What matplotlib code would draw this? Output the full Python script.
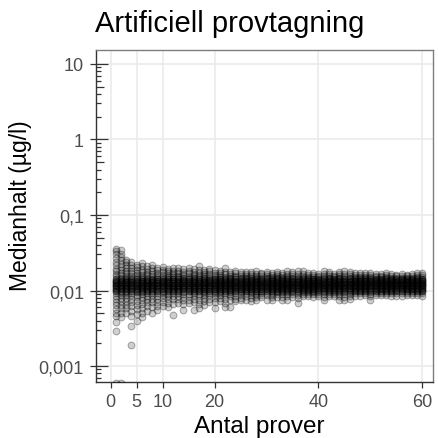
"""Scatter of simulated median concentrations against number of samples."""

import numpy as np
import matplotlib

matplotlib.use("Agg")
import matplotlib.pyplot as plt
from matplotlib.ticker import FixedLocator, NullLocator

plt.rcParams["font.family"] = ["Liberation Sans", "DejaVu Sans"]

# median concentration per resampling run, in ng/l, keyed by number of samples
medianhalt_ngl = {
    1: [35, 33, 30, 27, 24, 21.5, 19.5, 18, 16.6, 15.4, 14.4, 13.5, 12.7, 12, 11.3, 10.6, 9.9, 9.2, 8.5, 7.8, 7.1, 6.4, 5.7, 5.1, 4.6, 3.8, 2.9, 0.6],
    2: [34, 30, 27.5, 25, 22.5, 20.5, 18.7, 17.2, 15.9, 14.8, 13.8, 12.9, 12.1, 11.4, 10.7, 10, 9.3, 8.6, 7.9, 7.2, 6.5, 5.8, 5.1, 4.4, 0.6],
    3: [25.7, 23.5, 21.5, 19.8, 18.2, 16.8, 15.6, 14.6, 13.7, 12.9, 12.1, 11.4, 10.7, 10, 9.3, 8.6, 7.9, 7.2, 6.5, 5.8, 5.1],
    4: [24, 21.8, 19.9, 18.3, 16.9, 15.7, 14.6, 13.7, 12.9, 12.1, 11.4, 10.7, 10, 9.3, 8.6, 7.8, 7, 6.2, 5.4, 4.6, 3.4, 1.9],
    5: [22, 20.2, 18.6, 17.2, 16, 14.9, 14, 13.1, 12.3, 11.6, 10.9, 10.2, 9.5, 8.8, 8.1, 7.3, 6.5, 5.7, 4.9, 3.9],
    6: [23, 20.8, 18.9, 17.4, 16.1, 15, 14, 13.2, 12.4, 11.7, 11, 10.3, 9.6, 8.9, 8.2, 7.4, 6.6, 5.8, 5.1, 4.4],
    7: [21, 19.3, 17.8, 16.5, 15.4, 14.4, 13.5, 12.7, 12, 11.3, 10.6, 9.9, 9.2, 8.5, 7.8, 7, 6.2, 5.4],
    8: [22, 19.7, 18, 16.6, 15.4, 14.4, 13.6, 12.8, 12.1, 11.4, 10.7, 10, 9.3, 8.6, 7.8, 7, 6.1, 5.1],
    9: [20, 18.5, 17.2, 16.1, 15.1, 14.2, 13.4, 12.7, 12, 11.3, 10.6, 9.9, 9.2, 8.5, 7.8, 7, 6.3, 5.6],
    10: [20.5, 18.8, 17.4, 16.2, 15.2, 14.3, 13.5, 12.8, 12.1, 11.4, 10.7, 10, 9.3, 8.6, 7.9, 7.1, 6.2],
    11: [19.5, 18.1, 16.9, 15.8, 14.9, 14.1, 13.3, 12.6, 11.9, 11.2, 10.5, 9.8, 9.1, 8.4, 7.7, 6.9, 6.1],
    12: [20, 18.3, 17, 15.9, 15, 14.2, 13.4, 12.7, 12, 11.3, 10.6, 9.9, 9.2, 8.5, 7.7, 6.7, 4.8],
    13: [19.8, 18.2, 16.9, 15.8, 14.9, 14.1, 13.4, 12.7, 12, 11.3, 10.6, 9.9, 9.2, 8.5, 7.7, 6.8],
    14: [19.2, 17.8, 16.6, 15.6, 14.7, 13.9, 13.2, 12.5, 11.8, 11.1, 10.4, 9.7, 9, 8.3, 7.5, 6.6, 5.6],
    15: [20, 18.2, 16.8, 15.7, 14.8, 14, 13.3, 12.6, 11.9, 11.2, 10.5, 9.8, 9.1, 8.4, 7.6, 6.8],
    16: [19, 17.6, 16.5, 15.5, 14.6, 13.8, 13.1, 12.4, 11.8, 11.2, 10.6, 10, 9.3, 8.6, 7.8, 7, 5.6],
    17: [21, 18.8, 17.2, 16, 15, 14.1, 13.3, 12.6, 11.9, 11.2, 10.5, 9.8, 9.1, 8.4, 7.6, 6.6, 5.8],
    18: [18.8, 17.5, 16.4, 15.4, 14.5, 13.7, 13, 12.4, 11.8, 11.2, 10.6, 10, 9.4, 8.7, 8, 7.2, 6.4],
    19: [19.5, 17.9, 16.7, 15.6, 14.7, 13.9, 13.2, 12.5, 11.8, 11.2, 10.6, 10, 9.3, 8.6, 7.8, 7],
    20: [18.6, 17.3, 16.2, 15.2, 14.4, 13.6, 12.9, 12.3, 11.7, 11.1, 10.5, 9.9, 9.3, 8.6, 7.9, 7, 5.8],
    21: [18.2, 17, 16, 15.1, 14.3, 13.6, 12.9, 12.3, 11.7, 11.1, 10.5, 9.9, 9.3, 8.7, 8, 7.3],
    22: [20, 17.8, 16.4, 15.3, 14.4, 13.6, 12.9, 12.3, 11.7, 11.1, 10.5, 9.9, 9.3, 8.6, 7.8, 6.9, 6],
    23: [17.6, 16.5, 15.5, 14.7, 14, 13.3, 12.7, 12.1, 11.5, 10.9, 10.3, 9.7, 9.1, 8.4, 7.6, 6],
    24: [18, 16.8, 15.8, 14.9, 14.1, 13.4, 12.8, 12.2, 11.6, 11, 10.4, 9.8, 9.2, 8.5, 7.7, 7.2],
    25: [17.5, 16.4, 15.5, 14.7, 14, 13.3, 12.7, 12.1, 11.5, 11, 10.4, 9.8, 9.2, 8.6, 7.9, 7.4],
    26: [17.8, 16.6, 15.6, 14.8, 14, 13.4, 12.8, 12.2, 11.6, 11, 10.4, 9.8, 9.2, 8.5, 7.6],
    27: [17.4, 16.3, 15.4, 14.6, 13.9, 13.2, 12.6, 12.1, 11.5, 11, 10.4, 9.9, 9.3, 8.7, 8, 7.3],
    28: [18, 16.7, 15.7, 14.8, 14.1, 13.4, 12.8, 12.2, 11.7, 11.1, 10.6, 10, 9.4, 8.8, 8.1, 7.5],
    29: [17.3, 16.3, 15.4, 14.6, 13.9, 13.3, 12.7, 12.1, 11.6, 11.1, 10.5, 10, 9.4, 8.8, 8.1],
    30: [17.7, 16.5, 15.5, 14.7, 14, 13.3, 12.7, 12.2, 11.6, 11.1, 10.5, 9.9, 9.3, 8.6, 7.4],
    31: [17.2, 16.2, 15.3, 14.5, 13.8, 13.2, 12.6, 12.1, 11.5, 11, 10.5, 9.9, 9.4, 8.8, 8.1, 7.6],
    32: [17.6, 16.4, 15.5, 14.7, 14, 13.3, 12.7, 12.2, 11.6, 11.1, 10.6, 10, 9.5, 8.9, 8.2],
    33: [17.1, 16.1, 15.3, 14.5, 13.8, 13.2, 12.6, 12.1, 11.6, 11.1, 10.6, 10.1, 9.5, 8.9, 8.2, 7.5],
    34: [18, 16.7, 15.6, 14.7, 14, 13.3, 12.7, 12.2, 11.7, 11.2, 10.7, 10.1, 9.6, 9, 8.4, 7.6],
    35: [17.8, 16.5, 15.5, 14.7, 14, 13.4, 12.8, 12.2, 11.7, 11.2, 10.7, 10.1, 9.5, 8.9, 8.3],
    36: [17.9, 16.6, 15.6, 14.8, 14.1, 13.4, 12.8, 12.2, 11.7, 11.1, 10.6, 10, 9.4, 8.7, 7.9, 6.9],
    37: [18, 16.7, 15.7, 14.8, 14, 13.3, 12.7, 12.2, 11.7, 11.2, 10.7, 10.2, 9.6, 9, 8.4],
    38: [17, 16, 15.2, 14.5, 13.8, 13.2, 12.6, 12.1, 11.6, 11.1, 10.6, 10.1, 9.6, 9, 8.4],
    39: [16.8, 15.9, 15.1, 14.4, 13.8, 13.2, 12.6, 12.1, 11.6, 11.1, 10.6, 10.1, 9.5, 8.9, 8.3],
    40: [16.6, 15.8, 15, 14.4, 13.8, 13.2, 12.7, 12.2, 11.7, 11.2, 10.7, 10.2, 9.7, 9.1, 8.5],
    41: [17.9, 16.6, 15.6, 14.7, 14, 13.3, 12.7, 12.2, 11.7, 11.2, 10.7, 10.1, 9.6, 9, 8.3, 7.6],
    42: [17.7, 16.5, 15.5, 14.7, 14, 13.4, 12.8, 12.2, 11.7, 11.2, 10.7, 10.2, 9.7, 9.1, 8.5],
    43: [16.7, 15.8, 15, 14.4, 13.8, 13.2, 12.7, 12.2, 11.7, 11.2, 10.7, 10.2, 9.6, 9, 8.4],
    44: [17.8, 16.6, 15.6, 14.8, 14.1, 13.4, 12.8, 12.3, 11.8, 11.3, 10.8, 10.3, 9.7, 9.1, 8.5, 7.6],
    45: [18, 16.7, 15.7, 14.8, 14, 13.4, 12.8, 12.2, 11.7, 11.2, 10.7, 10.2, 9.6, 9, 8.3, 7.6],
    46: [17.6, 16.4, 15.5, 14.7, 14, 13.4, 12.8, 12.3, 11.8, 11.3, 10.8, 10.3, 9.7, 9.1, 8.4, 7.7],
    47: [17.2, 16.2, 15.3, 14.6, 13.9, 13.3, 12.8, 12.3, 11.8, 11.3, 10.8, 10.3, 9.8, 9.2, 8.5],
    48: [17.1, 16.1, 15.3, 14.6, 13.9, 13.3, 12.8, 12.3, 11.8, 11.3, 10.8, 10.3, 9.8, 9.2, 8.5],
    49: [17, 16, 15.2, 14.5, 13.9, 13.3, 12.8, 12.3, 11.8, 11.3, 10.8, 10.3, 9.8, 9.3, 8.7],
    50: [17.2, 16.2, 15.3, 14.6, 13.9, 13.3, 12.8, 12.3, 11.8, 11.3, 10.8, 10.3, 9.7, 9.1, 8.4, 7.6],
    51: [16.3, 15.5, 14.9, 14.3, 13.7, 13.2, 12.7, 12.2, 11.8, 11.3, 10.8, 10.3, 9.8, 9.2, 8.7],
    52: [16.4, 15.6, 14.9, 14.3, 13.7, 13.2, 12.7, 12.2, 11.8, 11.3, 10.9, 10.4, 9.9, 9.3, 8.8],
    53: [17.2, 16.1, 15.2, 14.5, 13.9, 13.3, 12.8, 12.3, 11.8, 11.3, 10.8, 10.3, 9.8, 9.3, 8.7],
    54: [16.3, 15.5, 14.8, 14.2, 13.7, 13.2, 12.7, 12.2, 11.7, 11.3, 10.8, 10.3, 9.8, 9.2, 8.4],
    55: [16.2, 15.4, 14.8, 14.2, 13.6, 13.1, 12.6, 12.2, 11.7, 11.3, 10.8, 10.3, 9.8, 9.2, 8.4],
    56: [16.4, 15.5, 14.8, 14.2, 13.7, 13.2, 12.7, 12.2, 11.8, 11.3, 10.9, 10.4, 9.9, 9.3, 8.5],
    57: [16.2, 15.4, 14.7, 14.1, 13.6, 13.1, 12.6, 12.2, 11.7, 11.3, 10.8, 10.4, 9.9, 9.4, 8.8],
    58: [16.3, 15.5, 14.8, 14.2, 13.7, 13.2, 12.7, 12.2, 11.8, 11.3, 10.9, 10.4, 9.9, 9.4, 8.8],
    59: [17.2, 16.1, 15.2, 14.5, 13.9, 13.3, 12.8, 12.3, 11.8, 11.3, 10.8, 10.3, 9.8, 9.3, 8.7],
    60: [17.2, 16, 15.1, 14.4, 13.8, 13.2, 12.7, 12.2, 11.8, 11.3, 10.8, 10.3, 9.8, 9.2, 8.4],
}

# repeated runs that land in the common middle band for every sample count
karna_ngl = [14.2, 13.5, 12.9, 12.4, 11.9, 11.4, 10.9, 10.4, 9.9]

xticks = [0, 5, 10, 20, 40, 60]
yticks = [0.001, 0.01, 0.1, 1, 10]
ytick_labels = ["0,001", "0,01", "0,1", "1", "10"]

title = "Artificiell provtagning"
xlabel = "Antal prover"
ylabel = "Medianhalt (µg/l)"

# flatten to point arrays, converting ng/l -> µg/l
kolumner = {n: v + karna_ngl for n, v in medianhalt_ngl.items()}
antal = np.concatenate([np.full(len(v), n) for n, v in kolumner.items()])
halt = np.concatenate([np.asarray(v, dtype=float) for v in kolumner.values()]) / 1000.0

W, H = 438, 439
fig = plt.figure(figsize=(W / 100, H / 100), dpi=100)
left, right, top, bottom = 95.5, 433, 51, 382.5
ax = fig.add_axes([left / W, 1 - bottom / H, (right - left) / W, (bottom - top) / H])

ax.scatter(antal, halt, s=24, facecolor=(0, 0, 0, 0.19), edgecolor=(0, 0, 0, 0.32),
           linewidths=0.7, zorder=3)

ax.set_yscale("log")
ax.set_xlim(-2.93, 62.06)
ax.set_ylim(10 ** -3.205, 10 ** 1.185)

ax.xaxis.set_major_locator(FixedLocator(xticks))
ax.set_xticklabels([str(t) for t in xticks])
ax.yaxis.set_major_locator(FixedLocator(yticks))
ax.yaxis.set_minor_locator(NullLocator())
ax.set_yticklabels(ytick_labels)

ax.grid(True, color="#EBEBEB", linewidth=1.2, zorder=0)
ax.set_axisbelow(True)
ax.tick_params(axis="both", length=4.3, width=0.9, color="#333333",
               labelcolor="#4D4D4D", labelsize=13)
ax.tick_params(axis="x", pad=4)
ax.tick_params(axis="y", pad=4)

for side in ("left", "bottom"):
    ax.spines[side].set_color("#333333")
    ax.spines[side].set_linewidth(1.0)
for side in ("top", "right"):
    ax.spines[side].set_color("#7F7F7F")
    ax.spines[side].set_linewidth(1.0)

# log ticks drawn inward along the left edge
panel_w = right - left
ylo, yhi = ax.get_ylim()
for k in range(-4, 2):
    for m in range(1, 10):
        v = m * 10.0 ** k
        if not (ylo <= v <= yhi):
            continue
        ln = 12 if m == 1 else (8 if m == 5 else 5)
        ax.plot([0, ln / panel_w], [v, v], transform=ax.get_yaxis_transform(),
                color="#333333", linewidth=0.9, solid_capstyle="butt", zorder=4)

fig.text(95 / W, 1 - 32 / H, title, ha="left", va="baseline", fontsize=21, color="black")
fig.text(21 / W, 1 - 206 / H, ylabel, rotation=90, ha="center", va="center",
         fontsize=16.5, color="black")
fig.text(259 / W, 1 - 433 / H, xlabel, ha="center", va="baseline",
         fontsize=17.5, color="black")

fig.savefig("out.png", dpi=100)
